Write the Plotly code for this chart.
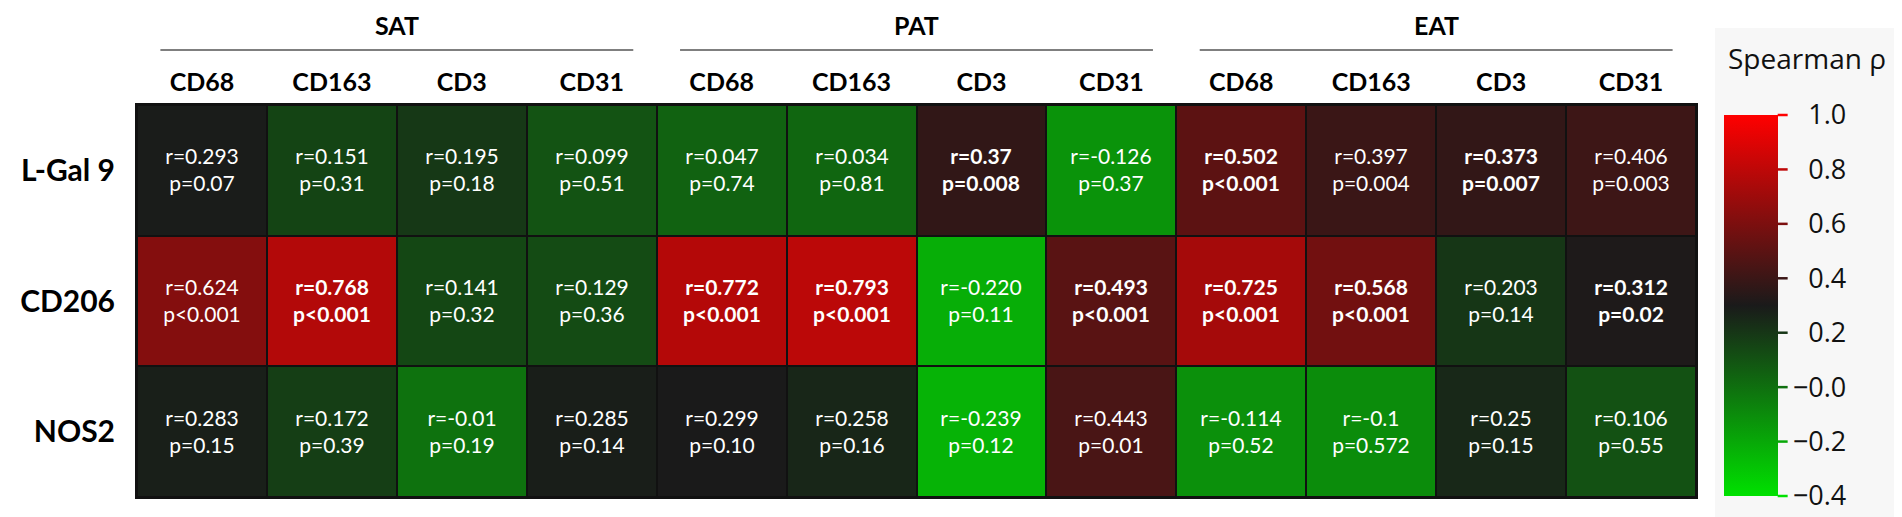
import plotly.graph_objects as go

# Spearman correlation heatmap: galectin / macrophage markers vs tissue markers

groups = ['SAT', 'PAT', 'EAT']
markers = ['CD68', 'CD163', 'CD3', 'CD31']
rows = ['L-Gal 9', 'CD206', 'NOS2']

r_lgal9 = ['0.293', '0.151', '0.195', '0.099', '0.047', '0.034', '0.37', '-0.126', '0.502', '0.397', '0.373', '0.406']
p_lgal9 = ['=0.07', '=0.31', '=0.18', '=0.51', '=0.74', '=0.81', '=0.008', '=0.37', '<0.001', '=0.004', '=0.007', '=0.003']
bold_lgal9 = [0, 0, 0, 0, 0, 0, 1, 0, 1, 0, 1, 0]

r_cd206 = ['0.624', '0.768', '0.141', '0.129', '0.772', '0.793', '-0.220', '0.493', '0.725', '0.568', '0.203', '0.312']
p_cd206 = ['<0.001', '<0.001', '=0.32', '=0.36', '<0.001', '<0.001', '=0.11', '<0.001', '<0.001', '<0.001', '=0.14', '=0.02']
bold_cd206 = [0, 1, 0, 0, 1, 1, 0, 1, 1, 1, 0, 1]

r_nos2 = ['0.283', '0.172', '-0.01', '0.285', '0.299', '0.258', '-0.239', '0.443', '-0.114', '-0.1', '0.25', '0.106']
p_nos2 = ['=0.15', '=0.39', '=0.19', '=0.14', '=0.10', '=0.16', '=0.12', '=0.01', '=0.52', '=0.572', '=0.15', '=0.55']
bold_nos2 = [0, 0, 0, 0, 0, 0, 0, 0, 0, 0, 0, 0]

cb_ticks = [1.0, 0.8, 0.6, 0.4, 0.2, 0.0, -0.2, -0.4]
cb_labels = ['\u20071.0', '\u20070.8', '\u20070.6', '\u20070.4', '\u20070.2', '\u22120.0', '\u22120.2', '\u22120.4']

ZMIN, ZMAX = -0.4, 1.0
colorscale = [[0.0, 'rgb(0,225,0)'], [0.5, 'rgb(26,26,26)'], [1.0, 'rgb(255,0,0)']]

W, H = 1902, 517
ML, MR, MT, MB = 123, 214, 97, 28
PW, PH = W - ML - MR, H - MT - MB


def px_x(x):
    return (x - ML) / PW


def px_y(y):
    return (H - MB - y) / PH


def scale_color(v):
    t = (v - ZMIN) / (ZMAX - ZMIN)
    lo, hi = (0, 225, 0), (26, 26, 26)
    if t > 0.5:
        lo, hi, t = (26, 26, 26), (255, 0, 0), t - 0.5
    t = t * 2
    c = [round(a + (b - a) * t) for a, b in zip(lo, hi)]
    return 'rgb(%d,%d,%d)' % tuple(c)


z, cell_text = [], []
for r_row, p_row, b_row in [(r_lgal9, p_lgal9, bold_lgal9), (r_cd206, p_cd206, bold_cd206), (r_nos2, p_nos2, bold_nos2)]:
    z.append([float(s) for s in r_row])
    row_txt = []
    for r, p, b in zip(r_row, p_row, b_row):
        s = 'r=' + r + '<br>p' + p.replace('<', '&lt;')
        row_txt.append('<b>' + s + '</b>' if b else s)
    cell_text.append(row_txt)

n_cols = len(groups) * len(markers)

heat = go.Heatmap(
    x=list(range(n_cols)),
    y=list(range(len(rows))),
    z=z,
    zmin=ZMIN, zmax=ZMAX,
    colorscale=colorscale,
    xgap=2, ygap=2,
    text=cell_text,
    texttemplate='%{text}',
    textfont=dict(family='Lato', size=21, color='white'),
    hoverinfo='skip',
    colorbar=dict(
        x=px_x(1716), xanchor='left', xpad=0,
        y=px_y(488), yanchor='bottom', ypad=0,
        lenmode='pixels', len=381,
        thicknessmode='pixels', thickness=54,
        outlinewidth=0,
        tickvals=cb_ticks, ticktext=cb_labels,
        ticks='outside', ticklen=10, tickcolor='rgba(0,0,0,0)',
        tickfont=dict(family='Open Sans', size=27, color='#111'),
    ),
)

fig = go.Figure(data=[heat])

bold_font = dict(family='Lato', size=25, color='black', weight='bold')

fig.update_layout(
    width=W, height=H,
    margin=dict(l=ML, r=MR, t=MT, b=MB),
    paper_bgcolor='white',
    plot_bgcolor='#111111',
    showlegend=False,
    xaxis=dict(
        tickvals=list(range(n_cols)), ticktext=markers * len(groups),
        side='top', range=[-0.5, n_cols - 0.5],
        showgrid=False, zeroline=False, ticks='',
        showline=True, mirror=True, linecolor='#111111', linewidth=2,
        tickfont=bold_font, ticklabelstandoff=2,
    ),
    yaxis=dict(
        tickvals=list(range(len(rows))), ticktext=rows,
        range=[len(rows) - 0.5, -0.5],
        showgrid=False, zeroline=False, ticks='',
        showline=True, mirror=True, linecolor='#111111', linewidth=2,
        tickfont=dict(family='Lato', size=30, color='black', weight='bold'),
        ticklabelstandoff=14,
    ),
)

shapes, annotations = [], []

# grey panel behind colour bar
shapes.append(dict(type='rect', xref='paper', yref='paper', layer='below',
                   x0=px_x(1707), x1=px_x(1897), y0=px_y(510), y1=px_y(20),
                   fillcolor='#f7f7f7', line=dict(width=0)))

# group headers with rules
for i, g in enumerate(groups):
    left = i * len(markers) - 0.5
    right = left + len(markers)
    annotations.append(dict(x=(left + right) / 2, y=px_y(17), xref='x', yref='paper',
                            xanchor='center', yanchor='middle',
                            text=g, showarrow=False, font=bold_font))
    shapes.append(dict(type='line', xref='x', yref='paper',
                       x0=left + 0.18, x1=right - 0.18, y0=px_y(42), y1=px_y(42),
                       line=dict(color='#555555', width=1.5)))

# colour bar title
annotations.append(dict(x=px_x(1799), y=px_y(50), xref='paper', yref='paper',
                        xanchor='center', yanchor='middle',
                        text='Spearman ρ', showarrow=False,
                        font=dict(family='Open Sans', size=28, color='#111')))

# coloured tick marks on the colour bar
for v in cb_ticks:
    yy = px_y(488) + (v - ZMIN) / (ZMAX - ZMIN) * 381 / PH
    shapes.append(dict(type='line', xref='paper', yref='paper',
                       x0=px_x(1770), x1=px_x(1780), y0=yy, y1=yy,
                       line=dict(color=scale_color(v), width=2.5)))

fig.update_layout(shapes=shapes, annotations=annotations)

fig.write_html('out.html')
